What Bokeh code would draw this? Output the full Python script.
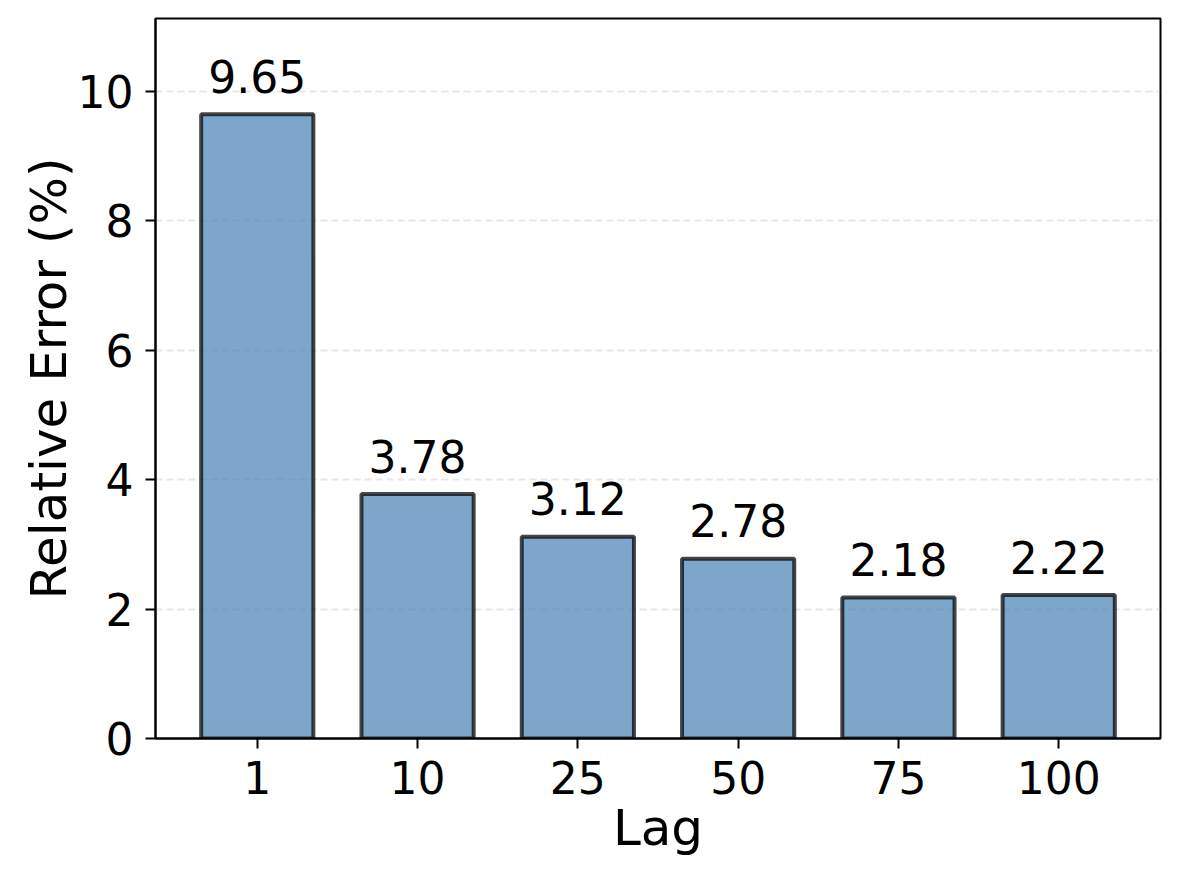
from bokeh.plotting import figure
from bokeh.models import Range1d, FixedTicker, ColumnDataSource
from bokeh.core.properties import value
from bokeh.embed import file_html
from bokeh.resources import INLINE

lags = ["1", "10", "25", "50", "75", "100"]
errors = [9.65, 3.78, 3.12, 2.78, 2.18, 2.22]
y_ticks = [0, 2, 4, 6, 8, 10]

FONT = "DejaVu Sans"
idx = list(range(len(lags)))

p = figure(width=1172, height=872, output_backend="svg", toolbar_location=None,
           x_range=Range1d(-0.635, 5.635), y_range=Range1d(0, 11.13),
           min_border_left=155, min_border_right=12, min_border_top=18, min_border_bottom=134)
p.background_fill_color = "white"
p.border_fill_color = "white"
p.outline_line_color = "black"
p.outline_line_width = 2
p.outline_line_alpha = 1

src = ColumnDataSource(dict(x=idx, top=errors,
                            label=[f"{v:.2f}" for v in errors],
                            ly=[v + 0.33 for v in errors]))

p.vbar(x="x", top="top", bottom=0, width=0.7, source=src,
       fill_color="steelblue", fill_alpha=0.7,
       line_color="black", line_alpha=0.72, line_width=4)

p.text(x="x", y="ly", text="label", source=src,
       text_align="center", text_baseline="bottom",
       text_font=value(FONT), text_font_size="44px", text_color="black")

p.xgrid.visible = False
p.ygrid.ticker = FixedTicker(ticks=y_ticks)
p.ygrid.grid_line_color = "#b0b0b0"
p.ygrid.grid_line_alpha = 0.3
p.ygrid.grid_line_dash = "7 4"
p.ygrid.grid_line_width = 2

p.xaxis.ticker = FixedTicker(ticks=idx)
p.xaxis.major_label_overrides = {i: s for i, s in zip(idx, lags)}
p.yaxis.ticker = FixedTicker(ticks=y_ticks)

for ax in (p.xaxis[0], p.yaxis[0]):
    ax.axis_line_color = "black"
    ax.axis_line_width = 2
    ax.major_tick_line_color = "black"
    ax.major_tick_line_width = 2
    ax.major_tick_out = 10
    ax.major_tick_in = 0
    ax.minor_tick_line_color = None
    ax.major_label_text_font = FONT
    ax.major_label_text_font_size = "44px"
    ax.major_label_text_color = "black"
    ax.axis_label_text_font = FONT
    ax.axis_label_text_font_size = "50px"
    ax.axis_label_text_font_style = "normal"
    ax.axis_label_text_color = "black"

p.xaxis.axis_label = "Lag"
p.yaxis.axis_label = "Relative Error (%)"
p.xaxis.major_label_standoff = 12
p.yaxis.major_label_standoff = 12
p.xaxis.axis_label_standoff = 2
p.yaxis.axis_label_standoff = -3

open("out.html", "w").write(file_html(p, INLINE))
